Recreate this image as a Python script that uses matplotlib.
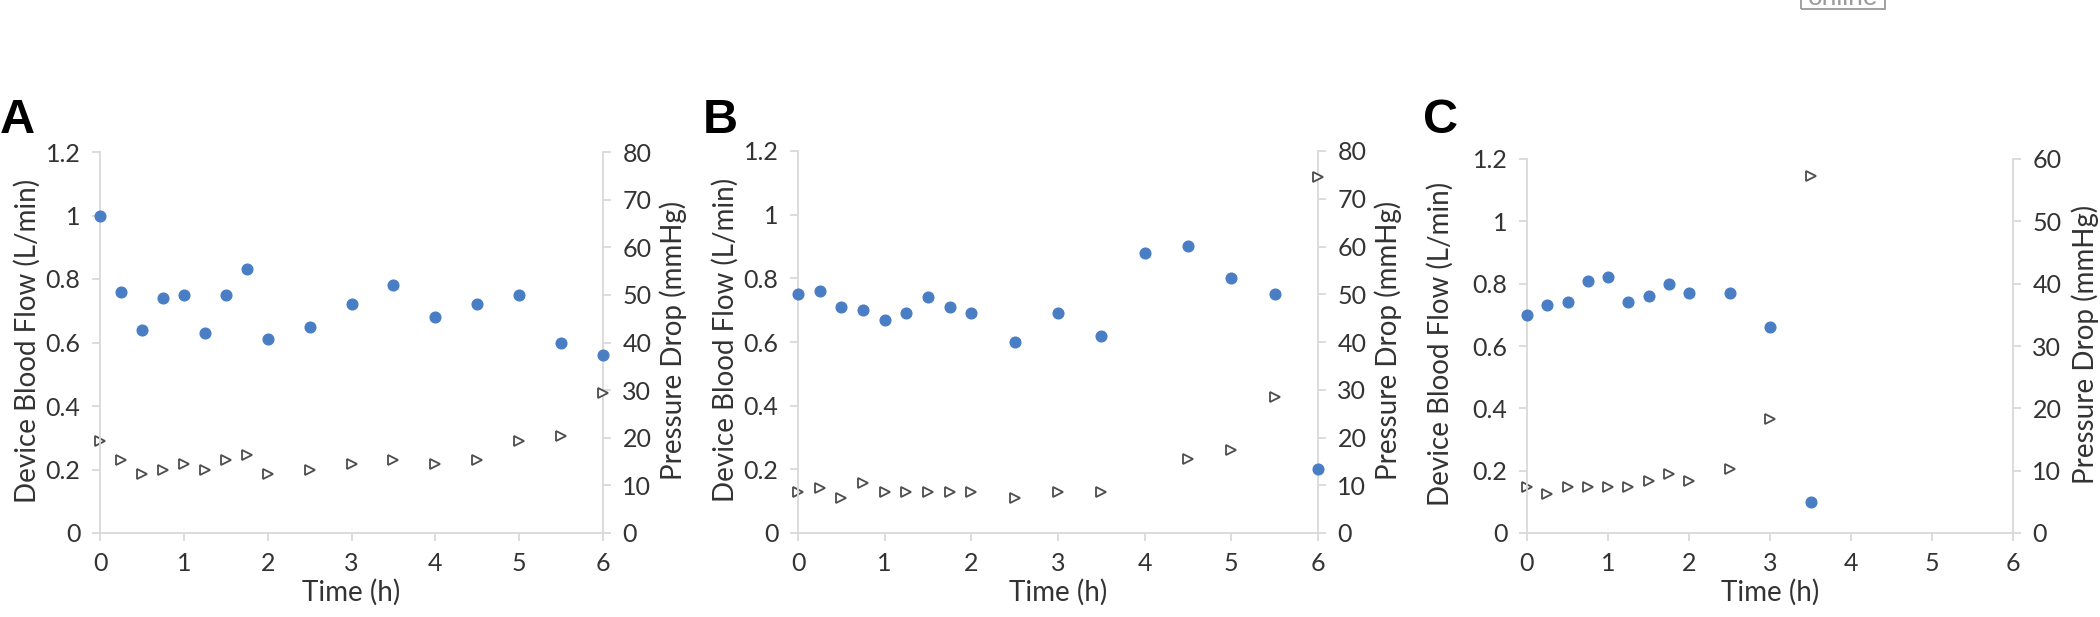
import matplotlib
matplotlib.use("Agg")
import matplotlib.pyplot as plt
from matplotlib.patches import Rectangle

plt.rcParams['font.family'] = ['Lato', 'DejaVu Sans']

# ---------------- data ----------------
time_A = [0, 0.25, 0.5, 0.75, 1, 1.25, 1.5, 1.75, 2, 2.5, 3, 3.5, 4, 4.5, 5, 5.5, 6]
flow_A = [1.00, 0.76, 0.64, 0.74, 0.75, 0.63, 0.75, 0.83, 0.61, 0.65, 0.72, 0.78, 0.68, 0.72, 0.75, 0.60, 0.56]
pres_A = [19.4, 15.4, 12.3, 13.3, 14.4, 13.3, 15.4, 16.3, 12.3, 13.3, 14.4, 15.4, 14.4, 15.4, 19.4, 20.4, 29.4]

time_B = [0, 0.25, 0.5, 0.75, 1, 1.25, 1.5, 1.75, 2, 2.5, 3, 3.5, 4, 4.5, 5, 5.5, 6]
flow_B = [0.75, 0.76, 0.71, 0.70, 0.67, 0.69, 0.74, 0.71, 0.69, 0.60, 0.69, 0.62, 0.88, 0.90, 0.80, 0.75, 0.20]
ptime_B = [0, 0.25, 0.5, 0.75, 1, 1.25, 1.5, 1.75, 2, 2.5, 3, 3.5, 4.5, 5, 5.5, 6]
pres_B = [8.6, 9.5, 7.4, 10.5, 8.6, 8.6, 8.6, 8.6, 8.6, 7.4, 8.6, 8.6, 15.4, 17.3, 28.4, 74.5]

time_C = [0, 0.25, 0.5, 0.75, 1, 1.25, 1.5, 1.75, 2, 2.5, 3, 3.5]
flow_C = [0.70, 0.73, 0.74, 0.81, 0.82, 0.74, 0.76, 0.80, 0.77, 0.77, 0.66, 0.10]
pres_C = [7.3, 6.2, 7.3, 7.3, 7.3, 7.3, 8.4, 9.4, 8.4, 10.2, 18.3, 57.2]

panel_letters = ['A', 'B', 'C']
left_ticks = [0, 0.2, 0.4, 0.6, 0.8, 1.0, 1.2]
left_ticklabels = ['0', '0.2', '0.4', '0.6', '0.8', '1', '1.2']
x_ticks = [0, 1, 2, 3, 4, 5, 6]
right_max = [80, 80, 60]

xlabel = 'Time (h)'
ylabel_left = 'Device Blood Flow (L/min)'
ylabel_right = 'Pressure Drop (mmHg)'
watermark = 'online'

# ---------------- layout ----------------
W, H = 2100, 617
fig = plt.figure(figsize=(W / 100, H / 100), dpi=100)

# (left px, right px, top px, bottom px)
boxes = [(100, 603, 152, 533), (798, 1318, 151, 533), (1527, 2013, 159, 533)]
ylabel_off = [73, 73, 87]      # px left of left spine
rlabel_off = [70, 70, 72]      # px right of right spine
letter_x = [0, 703, 1423]

blue = '#4a7ec4'
spine_c = '#d9d9d9'
txt_c = '#333333'
fs_tick = 18
fs_lab = 20

datasets = [
    (time_A, flow_A, time_A, pres_A),
    (time_B, flow_B, ptime_B, pres_B),
    (time_C, flow_C, time_C, pres_C),
]

for i, (tf, fl, tp, pr) in enumerate(datasets):
    l, r, t, b = boxes[i]
    ax = fig.add_axes([l / W, (H - b) / H, (r - l) / W, (b - t) / H])
    ax2 = ax.twinx()

    ax.set_xlim(0, 6)
    ax.set_ylim(0, 1.2)
    ax2.set_ylim(0, right_max[i])

    ax.set_xticks(x_ticks)
    ax.set_xticklabels([str(v) for v in x_ticks])
    ax.set_yticks(left_ticks)
    ax.set_yticklabels(left_ticklabels)
    ax2.set_yticks(list(range(0, right_max[i] + 1, 10)))

    for a in (ax, ax2):
        a.set_facecolor('none')
        for s in a.spines.values():
            s.set_color(spine_c)
            s.set_linewidth(1.3)
        a.spines['top'].set_visible(False)
        a.tick_params(colors=spine_c, width=1.3, length=6, labelcolor=txt_c,
                      labelsize=fs_tick, pad=8)
    ax.spines['right'].set_visible(False)
    ax2.spines['left'].set_visible(False)
    ax2.spines['bottom'].set_visible(False)

    # series
    ax2.plot(tp, pr, linestyle='none', marker='>', markersize=7.5,
             markerfacecolor='white', markeredgecolor='#4d4d4d',
             markeredgewidth=1.3, clip_on=False, zorder=3)
    ax.plot(tf, fl, linestyle='none', marker='o', markersize=7.7,
            color=blue, markeredgecolor=blue, clip_on=False, zorder=4)
    ax.set_zorder(ax2.get_zorder() + 1)

    # axis titles (placed explicitly, centred)
    cy = 1 - ((t + b) / 2 - 2) / H
    fig.text(((l + r) / 2) / W, 1 - 592 / H, xlabel, fontsize=fs_lab,
             color=txt_c, ha='center', va='center')
    fig.text((l - ylabel_off[i]) / W, cy, ylabel_left, fontsize=fs_lab,
             color=txt_c, ha='center', va='center', rotation=90,
             rotation_mode='anchor')
    fig.text((r + rlabel_off[i]) / W, cy, ylabel_right, fontsize=fs_lab,
             color=txt_c, ha='center', va='center', rotation=90,
             rotation_mode='anchor')

    fig.text(letter_x[i] / W, 1 - 133 / H, panel_letters[i], fontsize=35,
             fontweight='bold', family='Liberation Sans', color='black',
             ha='left', va='baseline')

# cropped watermark at top right (cut off at the top edge, as in the source)
fig.text(1843 / W, 1 - 5 / H, watermark, fontsize=19, color='#9a9a9a',
         ha='center', va='baseline', family='Liberation Sans')
fig.patches.append(Rectangle((1801 / W, 1 - 9 / H), 84 / W, 40 / H,
                             transform=fig.transFigure, fill=False,
                             edgecolor='#9a9a9a', linewidth=1.3))

fig.savefig('out.png', dpi=100, facecolor='white')
